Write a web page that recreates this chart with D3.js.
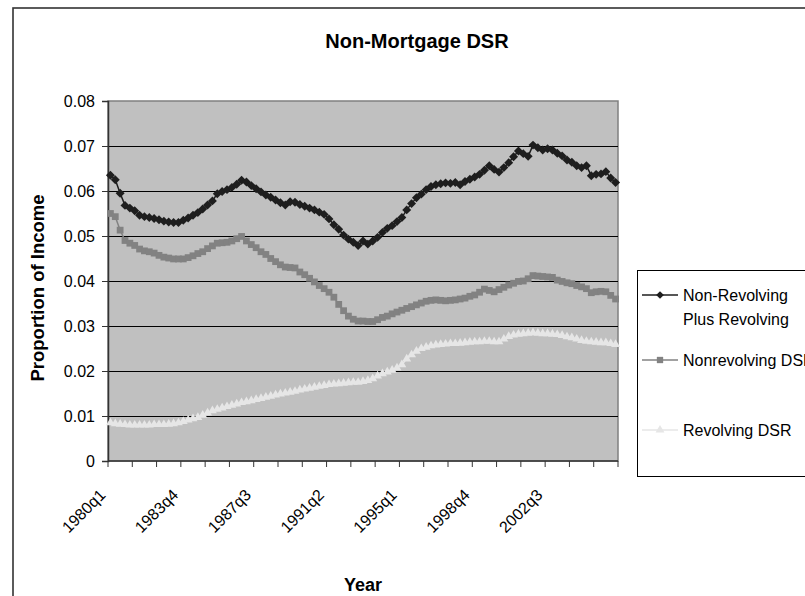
<!DOCTYPE html>
<html>
<head>
<meta charset="utf-8">
<script src="https://cdn.jsdelivr.net/npm/d3@7/dist/d3.min.js"></script>
<style>
  html, body { margin: 0; padding: 0; background: #fff; }
  svg { display: block; }
  text { font-family: "Liberation Sans", Arial, sans-serif; fill: #000; }
</style>
</head>
<body>
<svg id="chart" width="805" height="596"></svg>
<script>
// Quarterly categories, 1980q1 through 2006q1
const categories = [];
for (let yr = 1980; yr <= 2006; yr++) {
  for (let q = 1; q <= 4; q++) {
    if (yr === 2006 && q > 1) break;
    categories.push(yr + "q" + q);
  }
}

// Debt service ratios (share of disposable income)
const combinedDSR = [
  .0635,.0625,.0595,.0568,.0562,.0556,.0546,.0543,.0541,.0539,
  .0536,.0533,.0531,.0530,.0530,.0535,.0540,.0546,.0552,.0560,
  .0569,.0578,.0594,.0599,.0603,.0608,.0615,.0624,.0620,.0612,
  .0605,.0598,.0591,.0586,.0580,.0574,.0569,.0576,.0575,.0570,
  .0566,.0562,.0558,.0553,.0548,.0538,.0525,.0515,.0502,.0493,
  .0486,.0479,.0489,.0482,.0489,.0497,.0508,.0517,.0523,.0532,
  .0541,.0558,.0572,.0585,.0593,.0603,.0610,.0614,.0616,.0618,
  .0617,.0619,.0614,.0621,.0626,.0631,.0637,.0646,.0656,.0648,
  .0642,.0652,.0663,.0676,.0689,.0683,.0677,.0702,.0696,.0691,
  .0694,.0691,.0684,.0678,.0669,.0664,.0656,.0652,.0656,.0634,
  .0637,.0638,.0643,.0629,.0619
];
const nonrevolvingDSR = [
  .0550,.0543,.0513,.0490,.0484,.0479,.0471,.0467,.0465,.0462,
  .0457,.0453,.0451,.0449,.0449,.0449,.0452,.0456,.0461,.0465,
  .0472,.0478,.0484,.0485,.0486,.0489,.0494,.0499,.0489,.0481,
  .0474,.0465,.0459,.0450,.0443,.0436,.0431,.0430,.0429,.0420,
  .0414,.0406,.0398,.0390,.0383,.0375,.0364,.0348,.0334,.0322,
  .0315,.0311,.0311,.0310,.0310,.0314,.0319,.0322,.0327,.0331,
  .0335,.0339,.0343,.0347,.0351,.0355,.0357,.0358,.0357,.0356,
  .0357,.0358,.0360,.0362,.0366,.0369,.0375,.0382,.0379,.0376,
  .0381,.0386,.0391,.0395,.0399,.0400,.0405,.0412,.0411,.0410,
  .0409,.0408,.0402,.0399,.0396,.0394,.0390,.0387,.0383,.0374,
  .0376,.0377,.0376,.0368,.0360
];
const revolvingDSR = [
  .0085,.0083,.0082,.0081,.0080,.0080,.0080,.0080,.0080,.0081,
  .0081,.0081,.0082,.0083,.0085,.0088,.0091,.0094,.0097,.0102,
  .0107,.0112,.0115,.0118,.0121,.0124,.0127,.0130,.0132,.0134,
  .0137,.0139,.0142,.0144,.0147,.0149,.0151,.0153,.0155,.0158,
  .0160,.0162,.0164,.0166,.0168,.0170,.0171,.0172,.0173,.0174,
  .0175,.0175,.0177,.0179,.0183,.0189,.0194,.0198,.0202,.0207,
  .0214,.0227,.0236,.0244,.0250,.0253,.0256,.0258,.0259,.0260,
  .0261,.0261,.0262,.0263,.0264,.0265,.0265,.0266,.0266,.0265,
  .0265,.0271,.0277,.0280,.0282,.0283,.0284,.0285,.0284,.0283,
  .0283,.0282,.0281,.0279,.0276,.0274,.0271,.0268,.0266,.0265,
  .0264,.0263,.0263,.0261,.0259
];

const seriesNames = ["Non-Revolving Plus Revolving", "Nonrevolving DSR", "Revolving DSR"];
const xTickLabels = ["1980q1", "1983q4", "1987q3", "1991q2", "1995q1", "1998q4", "2002q3"];
const yTickValues = [0, 0.01, 0.02, 0.03, 0.04, 0.05, 0.06, 0.07, 0.08];

const svg = d3.select("#chart");
const plot = { left: 108, right: 618, top: 101, bottom: 461 };

const x = d3.scaleBand().domain(categories).range([plot.left, plot.right]).paddingInner(0).paddingOuter(0);
const y = d3.scaleLinear().domain([0, 0.08]).range([plot.bottom, plot.top]);
const cx = c => x(c) + x.bandwidth() / 2;

// Outer chart frame
svg.append("rect")
  .attr("x", 13).attr("y", 8).attr("width", 900).attr("height", 700)
  .attr("fill", "#fff").attr("stroke", "#333").attr("stroke-width", 1.6);

// Plot background
svg.append("rect")
  .attr("x", plot.left).attr("y", plot.top)
  .attr("width", plot.right - plot.left).attr("height", plot.bottom - plot.top)
  .attr("fill", "#c0c0c0").attr("stroke", "#808080").attr("stroke-width", 1.5);

// Horizontal gridlines
svg.append("g").selectAll("line")
  .data(yTickValues.filter(v => v > 0 && v < 0.08))
  .join("line")
  .attr("x1", plot.left).attr("x2", plot.right)
  .attr("y1", d => Math.round(y(d)) + 0.5).attr("y2", d => Math.round(y(d)) + 0.5)
  .attr("stroke", "#000").attr("stroke-width", 1);

// Y axis
const yAxis = svg.append("g")
  .attr("transform", `translate(${plot.left},0)`)
  .call(d3.axisLeft(y).tickValues(yTickValues).tickSize(6).tickPadding(7)
    .tickFormat(d => d === 0 ? "0" : d3.format(".2f")(d)));
yAxis.select(".domain").attr("stroke", "#333").attr("stroke-width", 1.5);
yAxis.selectAll(".tick line").attr("stroke", "#333");
yAxis.selectAll(".tick text").attr("font-size", 16).attr("fill", "#000")
  .style("font-family", "'Liberation Sans', Arial, sans-serif");

// X axis line and tick marks every five quarters
svg.append("line")
  .attr("x1", plot.left).attr("x2", plot.right)
  .attr("y1", plot.bottom).attr("y2", plot.bottom)
  .attr("stroke", "#333").attr("stroke-width", 1.5);
const tickCats = categories.filter((c, i) => i % 5 === 0);
const tickXs = tickCats.map(c => x(c)).concat([plot.right]);
svg.append("g").selectAll("line")
  .data(tickXs)
  .join("line")
  .attr("x1", d => d).attr("x2", d => d)
  .attr("y1", plot.bottom).attr("y2", plot.bottom + 6)
  .attr("stroke", "#333").attr("stroke-width", 1);

// Rotated category labels
svg.append("g").selectAll("text")
  .data(xTickLabels)
  .join("text")
  .attr("transform", d => `translate(${cx(d) - 4},${plot.bottom + 35}) rotate(-45)`)
  .attr("text-anchor", "end")
  .attr("font-size", 16)
  .text(d => d);

// Series lines and markers
const line = d3.line().x((d, i) => cx(categories[i])).y(d => y(d));

function drawSeries(values, color, symbolType, size, rotate) {
  const g = svg.append("g");
  g.append("path").datum(values)
    .attr("d", line).attr("fill", "none")
    .attr("stroke", color).attr("stroke-width", 1.5);
  g.selectAll("path.m").data(values).join("path")
    .attr("class", "m")
    .attr("d", d3.symbol().type(symbolType).size(size))
    .attr("transform", (d, i) => `translate(${cx(categories[i])},${y(d)}) rotate(${rotate})`)
    .attr("fill", color);
}

drawSeries(combinedDSR, "#1e1e1e", d3.symbolSquare, 40, 45);
drawSeries(nonrevolvingDSR, "#828282", d3.symbolSquare, 46, 0);
drawSeries(revolvingDSR, "#e6e6e6", d3.symbolTriangle, 34, 0);

// Titles
svg.append("text")
  .attr("x", 417).attr("y", 48)
  .attr("text-anchor", "middle")
  .attr("font-size", 20).attr("font-weight", "bold")
  .text("Non-Mortgage DSR");

svg.append("text")
  .attr("transform", `translate(44,${(plot.top + plot.bottom) / 2 + 7}) rotate(-90)`)
  .attr("text-anchor", "middle")
  .attr("font-size", 18.5).attr("font-weight", "bold")
  .text("Proportion of Income");

svg.append("text")
  .attr("x", (plot.left + plot.right) / 2).attr("y", 591)
  .attr("text-anchor", "middle")
  .attr("font-size", 18).attr("font-weight", "bold")
  .text("Year");

// Legend
const legend = svg.append("g");
legend.append("rect")
  .attr("x", 637.5).attr("y", 270.5).attr("width", 220).attr("height", 206)
  .attr("fill", "#fff").attr("stroke", "#000").attr("stroke-width", 1);

const legendItems = [
  { lines: ["Non-Revolving", "Plus Revolving"], color: "#1e1e1e", type: d3.symbolSquare, size: 30, rot: 45, y: 295 },
  { lines: ["Nonrevolving DSR"], color: "#828282", type: d3.symbolSquare, size: 40, rot: 0, y: 360 },
  { lines: ["Revolving DSR"], color: "#e6e6e6", type: d3.symbolTriangle, size: 34, rot: 0, y: 430 }
];
legendItems.forEach((it, k) => {
  legend.append("line")
    .attr("x1", 642).attr("x2", 678).attr("y1", it.y).attr("y2", it.y)
    .attr("stroke", it.color).attr("stroke-width", 1.5);
  legend.append("path")
    .attr("d", d3.symbol().type(it.type).size(it.size))
    .attr("transform", `translate(660,${it.y}) rotate(${it.rot})`)
    .attr("fill", it.color);
  const t = legend.append("text")
    .attr("x", 683).attr("y", it.y + 5.5)
    .attr("font-size", 16);
  it.lines.forEach((ln, j) => {
    t.append("tspan").attr("x", 683).attr("dy", j === 0 ? 0 : 24).text(ln);
  });
});
</script>
</body>
</html>
